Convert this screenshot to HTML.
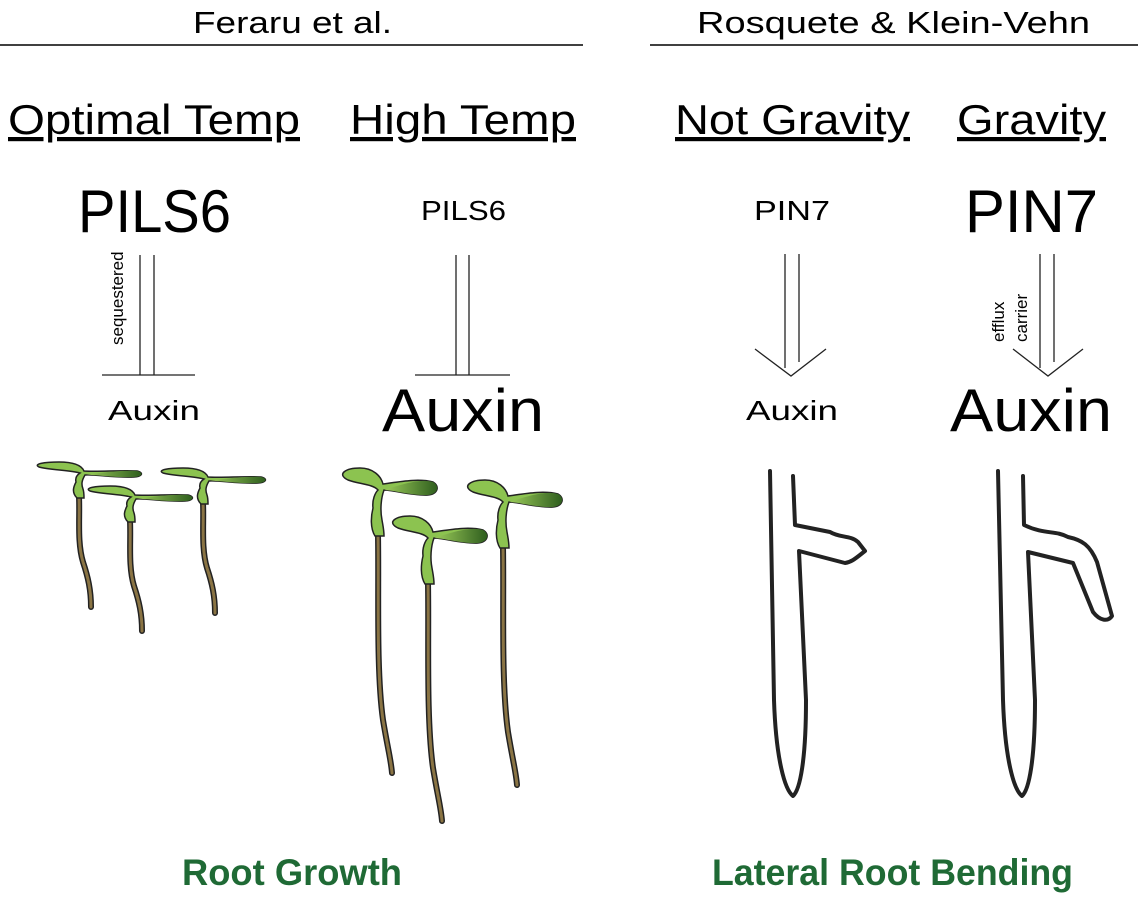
<!DOCTYPE html>
<html><head><meta charset="utf-8"><style>
html,body{margin:0;padding:0;background:#fff;}
svg{display:block;}
text{font-family:"Liberation Sans",sans-serif;fill:#000;}
</style></head><body>
<svg width="1138" height="897" viewBox="0 0 1138 897" xmlns="http://www.w3.org/2000/svg">
<defs>
<linearGradient id="lf" x1="0" x2="1" y1="0" y2="0"><stop offset="0" stop-color="#9ccc5a"/><stop offset="1" stop-color="#2f5e1e"/></linearGradient>
<g id="sd">
<path d="M0,25 C1,45 -2,70 4,90 C9,105 12,118 12,135" fill="none" stroke="#222" stroke-width="6" stroke-linecap="round"/>
<path d="M0,25 C1,45 -2,70 4,90 C9,105 12,118 12,135" fill="none" stroke="#8a7444" stroke-width="3" stroke-linecap="round"/>
<path d="M-2,26 C-8,20 -5,14 -3,10 C-4,6 -2,3 1,1 C-10,-2 -30,-2 -40,-5 C-46,-8 -35,-10 -20,-10 C-8,-10 2,-8 5,-1 C20,0 40,-2 58,-1 C66,1 62,5 55,5 C35,6 15,2 6,3 C3,8 2,12 4,17 C5,20 5,23 5,26 Z" fill="#8cc350" stroke="#222" stroke-width="1.5"/>
<path d="M6,3 C20,1 40,-2 58,-1 C66,1 62,5 55,5 C35,6 15,2 6,3Z" fill="url(#lf)"/>
</g>
<g id="sdL">
<path d="M0,45 C1,100 -2,180 5,230 C10,260 13,270 14,283" fill="none" stroke="#222" stroke-width="6" stroke-linecap="round"/>
<path d="M0,45 C1,100 -2,180 5,230 C10,260 13,270 14,283" fill="none" stroke="#8a7444" stroke-width="3" stroke-linecap="round"/>
<path d="M-3,46 C-8,38 -7,26 -5,18 C-6,10 -3,3 0,0 C-5,-6 -20,-6 -30,-10 C-42,-16 -32,-22 -18,-22 C-5,-22 3,-14 5,-6 C20,-8 40,-12 55,-8 C62,-4 60,4 50,5 C35,6 15,0 6,0 C3,8 2,20 4,30 C5,36 6,40 6,46 Z" fill="#8cc350" stroke="#222" stroke-width="1.5"/>
<path d="M6,0 C20,-4 40,-12 55,-8 C62,-4 60,4 50,5 C35,6 15,0 6,0Z" fill="url(#lf)"/>
</g>
</defs>
<text x="193" y="33" font-size="31" textLength="199" lengthAdjust="spacingAndGlyphs">Feraru et al.</text>
<text x="697" y="33" font-size="31" textLength="393" lengthAdjust="spacingAndGlyphs">Rosquete &amp; Klein-Vehn</text>
<line x1="0" y1="45" x2="583" y2="45" stroke="#000" stroke-width="1.5"/>
<line x1="650" y1="45" x2="1138" y2="45" stroke="#000" stroke-width="1.5"/>
<g font-size="42" text-decoration="underline">
<text x="8" y="134" textLength="292" lengthAdjust="spacingAndGlyphs">Optimal Temp</text>
<text x="350" y="134" textLength="226" lengthAdjust="spacingAndGlyphs">High Temp</text>
<text x="675" y="134" textLength="235" lengthAdjust="spacingAndGlyphs">Not Gravity</text>
<text x="957" y="134" textLength="149" lengthAdjust="spacingAndGlyphs">Gravity</text>
</g>
<text x="78" y="232" font-size="60" textLength="153" lengthAdjust="spacingAndGlyphs">PILS6</text>
<text x="421" y="220" font-size="28" textLength="85" lengthAdjust="spacingAndGlyphs">PILS6</text>
<text x="754" y="220" font-size="28" textLength="76" lengthAdjust="spacingAndGlyphs">PIN7</text>
<text x="965" y="232" font-size="60" textLength="133" lengthAdjust="spacingAndGlyphs">PIN7</text>
<text x="108" y="420" font-size="28" textLength="92" lengthAdjust="spacingAndGlyphs">Auxin</text>
<text x="382" y="431" font-size="60" textLength="162" lengthAdjust="spacingAndGlyphs">Auxin</text>
<text x="746" y="420" font-size="28" textLength="92" lengthAdjust="spacingAndGlyphs">Auxin</text>
<text x="950" y="431" font-size="60" textLength="162" lengthAdjust="spacingAndGlyphs">Auxin</text>
<g stroke="#222" stroke-width="1.3" fill="none">
<line x1="140" y1="255" x2="140" y2="375"/><line x1="154" y1="255" x2="154" y2="375"/><line x1="102" y1="375" x2="195" y2="375"/>
<line x1="456" y1="255" x2="456" y2="375"/><line x1="469" y1="255" x2="469" y2="375"/><line x1="415" y1="375" x2="510" y2="375"/>
<line x1="785" y1="254" x2="785" y2="368"/><line x1="799" y1="254" x2="799" y2="362"/><polyline points="755,349 791,376 826,349"/>
<line x1="1040" y1="254" x2="1040" y2="368"/><line x1="1054" y1="254" x2="1054" y2="362"/><polyline points="1013,349 1048,376 1083,349"/>
</g>
<text transform="translate(123,345) rotate(-90)" font-size="17">sequestered</text>
<text transform="translate(1004,342) rotate(-90)" font-size="17">efflux</text>
<text transform="translate(1027,342) rotate(-90)" font-size="17">carrier</text>
<use href="#sd" x="79" y="472"/>
<use href="#sd" x="130" y="496"/>
<use href="#sd" x="203" y="478"/>
<use href="#sdL" x="378" y="490"/>
<use href="#sdL" x="428" y="538"/>
<use href="#sdL" x="503" y="502"/>
<g stroke="#222" stroke-width="4" fill="none" stroke-linejoin="round" stroke-linecap="round">
<path d="M770,471 L774,700 C776,760 785,790 793,796 C800,790 806,760 806,700 L799,551 L845,563 C852,562 856,558 865,551 L858,542 C850,535 840,538 830,532 L795,525 L793,476"/>
<path d="M998,471 L1003,700 C1005,760 1014,790 1022,796 C1029,790 1035,760 1035,700 L1028,552 L1073,563 L1093,612 C1100,621 1108,622 1112,616 L1097,562 C1090,545 1082,540 1068,537 C1055,530 1045,535 1024,525 L1023,476"/>
</g>
<g font-size="37" font-weight="bold">
<text x="182" y="885" style="fill:#1f6a35" textLength="220" lengthAdjust="spacingAndGlyphs">Root Growth</text>
<text x="712" y="885" style="fill:#1f6a35" textLength="361" lengthAdjust="spacingAndGlyphs">Lateral Root Bending</text>
</g>
</svg>
</body></html>
